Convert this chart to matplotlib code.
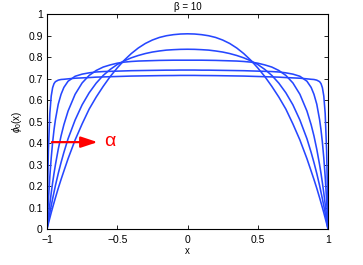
import numpy as np
import matplotlib
matplotlib.use('Agg')
import matplotlib.pyplot as plt

plt.rcParams['font.family'] = ['Liberation Sans', 'DejaVu Sans']
plt.rcParams['mathtext.fontset'] = 'custom'
plt.rcParams['mathtext.rm'] = 'Liberation Sans'
plt.rcParams['mathtext.it'] = 'Liberation Sans:italic'

# left half of each curve (x from -1 to 0), curves are symmetric about x = 0
x_half = [-1.0, -0.998, -0.995, -0.99, -0.98, -0.97, -0.96, -0.95, -0.94, -0.92,
          -0.9, -0.88, -0.85, -0.8, -0.75, -0.7, -0.65, -0.6, -0.55, -0.5,
          -0.45, -0.4, -0.35, -0.3, -0.25, -0.2, -0.15, -0.1, -0.05, 0.0]

phi_a1 = [0.0, 0.005, 0.013, 0.026, 0.051, 0.076, 0.100, 0.123, 0.146, 0.190,
          0.231, 0.270, 0.328, 0.415, 0.490, 0.559, 0.615, 0.665, 0.711, 0.751,
          0.787, 0.818, 0.844, 0.865, 0.881, 0.893, 0.901, 0.906, 0.909, 0.910]
phi_a2 = [0.0, 0.008, 0.019, 0.038, 0.074, 0.108, 0.141, 0.172, 0.203, 0.259,
          0.310, 0.357, 0.421, 0.508, 0.579, 0.635, 0.680, 0.716, 0.744, 0.767,
          0.784, 0.798, 0.809, 0.818, 0.825, 0.830, 0.834, 0.836, 0.8375, 0.838]
phi_a3 = [0.0, 0.012, 0.031, 0.061, 0.116, 0.168, 0.216, 0.260, 0.300, 0.372,
          0.434, 0.486, 0.550, 0.628, 0.681, 0.716, 0.739, 0.755, 0.765, 0.773,
          0.778, 0.781, 0.783, 0.784, 0.785, 0.786, 0.7865, 0.787, 0.787, 0.787]
phi_a4 = [0.0, 0.029, 0.071, 0.134, 0.243, 0.332, 0.404, 0.463, 0.510, 0.582,
          0.628, 0.660, 0.689, 0.712, 0.722, 0.728, 0.732, 0.734, 0.735, 0.736,
          0.737, 0.738, 0.7385, 0.739, 0.7395, 0.740, 0.7405, 0.7405, 0.741, 0.741]
phi_a5 = [0.0, 0.096, 0.216, 0.365, 0.538, 0.620, 0.659, 0.678, 0.687, 0.694,
          0.697, 0.698, 0.700, 0.703, 0.7045, 0.706, 0.708, 0.709, 0.710, 0.711,
          0.712, 0.713, 0.7135, 0.714, 0.7145, 0.715, 0.7153, 0.7155, 0.716, 0.716]

curves = [phi_a1, phi_a2, phi_a3, phi_a4, phi_a5]

x_full = np.concatenate([x_half, -np.array(x_half[::-1][1:])])

fig = plt.figure(figsize=(3.63, 2.65), dpi=100)
ax = fig.add_axes([0.1295, 0.1358, 0.7741, 0.8095])

for c in curves:
    y_full = np.concatenate([c, c[::-1][1:]])
    ax.plot(x_full, y_full, color=(0.15, 0.28, 1.0), lw=1.15)

ax.annotate('', xy=(-0.62, 0.405), xytext=(-0.985, 0.405),
            arrowprops=dict(arrowstyle='-|>,head_length=1.0,head_width=0.33',
                            color='red', lw=1.6))
ax.text(-0.595, 0.408, '\u03b1', color='red', fontsize=14, va='center', ha='left')

ax.set_xlim(-1, 1)
ax.set_ylim(0, 1)
ax.set_xticks([-1, -0.5, 0, 0.5, 1])
ax.set_xticklabels(['\u22121', '\u22120.5', '0', '0.5', '1'])
ax.set_yticks(np.arange(0, 1.01, 0.1))
ax.set_yticklabels(['0', '0.1', '0.2', '0.3', '0.4', '0.5', '0.6', '0.7', '0.8', '0.9', '1'])
ax.tick_params(direction='in', top=True, right=True, labelsize=7.5, length=3, width=0.6)
ax.tick_params(axis='x', pad=4)
ax.tick_params(axis='y', pad=3)
for s in ax.spines.values():
    s.set_linewidth(0.8)

ax.set_title('\u03b2 = 10', fontsize=7, pad=3)
ax.set_xlabel('x', fontsize=7, labelpad=1)
ax.set_ylabel(r'$\phi_0$(x)', fontsize=7, labelpad=3)

fig.savefig('out.png', dpi=100)
